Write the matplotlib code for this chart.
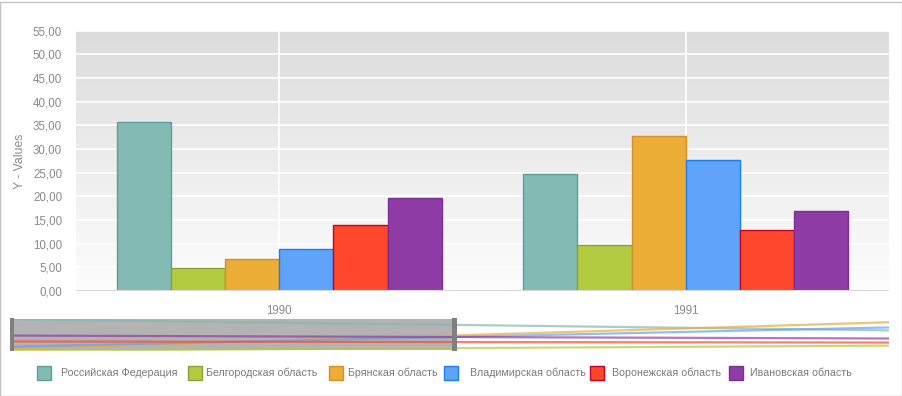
import numpy as np
import matplotlib
matplotlib.use("Agg")
import matplotlib.pyplot as plt
from matplotlib.patches import Rectangle
from matplotlib.ticker import FuncFormatter, MultipleLocator
from matplotlib.colors import LinearSegmentedColormap

# ---- data ----
categories = ["1990", "1991"]
series_names = ["Российская Федерация", "Белгородская область", "Брянская область",
                "Владимирская область", "Воронежская область", "Ивановская область"]
rf = [35.7, 24.8]
belgorod = [4.8, 9.8]
bryansk = [6.7, 32.8]
vladimir = [8.8, 27.7]
voronezh = [13.9, 12.8]
ivanovo = [19.7, 16.8]
values = [rf, belgorod, bryansk, vladimir, voronezh, ivanovo]

fills = ["#83bab4", "#b3cb41", "#ebad35", "#5fa3fa", "#ff472d", "#8f3ca7"]
edges = ["#5f9e98", "#8ea035", "#d4902a", "#1a7ef5", "#c8001a", "#7a2f94"]

W, H = 903, 396
plt.rcParams['font.family'] = ['Liberation Sans', 'DejaVu Sans']
fig = plt.figure(figsize=(W / 100, H / 100), dpi=100)
fig.patch.set_facecolor("white")

def fx(px):
    return px / W

def fy(py):
    return 1 - py / H

# border
fig.add_artist(Rectangle((fx(0.5), fy(395.5)), fx(902), 394 / H, transform=fig.transFigure,
                         fill=False, edgecolor="#c4c4c4", lw=1))

# ---- main axes ----
left, right, top, bottom = 76, 889, 30.7, 291
ax = fig.add_axes([fx(left), fy(bottom), fx(right - left), (bottom - top) / H])

grad = np.linspace(0, 1, 256).reshape(-1, 1)
cmap = LinearSegmentedColormap.from_list("bg", ["#fdfdfd", "#dcdcdc"])
ax.imshow(grad, extent=(0, 2, 0, 55), origin="lower", aspect="auto", cmap=cmap, zorder=0)
ax.set_xlim(0, 2)
ax.set_ylim(0, 55)

for v in np.arange(5, 55.1, 5):
    ax.axhline(v, color="white", lw=1.2, zorder=1)
centers = np.arange(len(categories)) + 0.5
for c in centers:
    ax.axvline(c, color="white", lw=1.2, zorder=1)

n = len(values)
group_w = 0.8
bw = group_w / n
for i, (vals, fc, ec) in enumerate(zip(values, fills, edges)):
    xs = centers - group_w / 2 + bw * (i + 0.5)
    ax.bar(xs, vals, width=bw, color=fc, edgecolor=ec, linewidth=1, zorder=3)

for s in ax.spines.values():
    s.set_visible(False)
ax.axhline(0, color="#d8d8d8", lw=1.5, zorder=4)

ax.yaxis.set_major_locator(MultipleLocator(5))
ax.yaxis.set_major_formatter(FuncFormatter(lambda v, p: f"{v:.2f}".replace(".", ",")))
ax.set_xticks(centers)
ax.set_xticklabels(categories)
ax.tick_params(axis="both", length=0, colors="#8a8a8a", labelsize=8.3)
ax.tick_params(axis="x", pad=10)
ax.tick_params(axis="y", pad=10)
ax.set_ylabel("Y - Values", color="#8a8a8a", fontsize=8.8, labelpad=5)

# ---- navigator ----
nl, nr, nt, nb = 14, 889, 319, 351
nav = fig.add_axes([fx(nl), fy(nb), fx(nr - nl), (nb - nt) / H])
nav.set_xlim(0, 1)
allv = np.array(values)
vmin, vmax = allv.min(), allv.max()
nav.set_ylim(vmin - 0.3, vmax + 0.3)
nav.axis("off")
nav.patch.set_alpha(0)

# shaded selection
fig.add_artist(Rectangle((fx(10), fy(350)), fx(447), 31 / H, transform=fig.transFigure,
                         facecolor="#b3b3b3", edgecolor="none", zorder=0))
fig.add_artist(Rectangle((fx(10), fy(351)), fx(4.5), 33 / H, transform=fig.transFigure,
                         facecolor="#7f7f7f", edgecolor="none", zorder=5))
fig.add_artist(Rectangle((fx(452.5), fy(351)), fx(4.5), 33 / H, transform=fig.transFigure,
                         facecolor="#7f7f7f", edgecolor="none", zorder=5))
nav.set_zorder(3)
for vals, fc in zip(values, fills):
    nav.plot([0, 1], vals, color=fc, lw=1.6, alpha=0.7, solid_capstyle="butt")

# ---- legend ----
leg_y = 373
marks = [37, 188, 329, 444, 590, 729]
texts = [61, 206, 348, 470, 612, 750]
for name, fc, ec, mx, tx in zip(series_names, fills, edges, marks, texts):
    fig.add_artist(Rectangle((fx(mx), fy(leg_y + 7)), fx(14), 14 / H, transform=fig.transFigure,
                             facecolor=fc, edgecolor=ec, lw=1))
    fig.text(fx(tx), fy(leg_y), name, fontsize=7.7, color="#7a7a7a", va="center", ha="left")

fig.savefig("out.png", dpi=100, facecolor="white")
